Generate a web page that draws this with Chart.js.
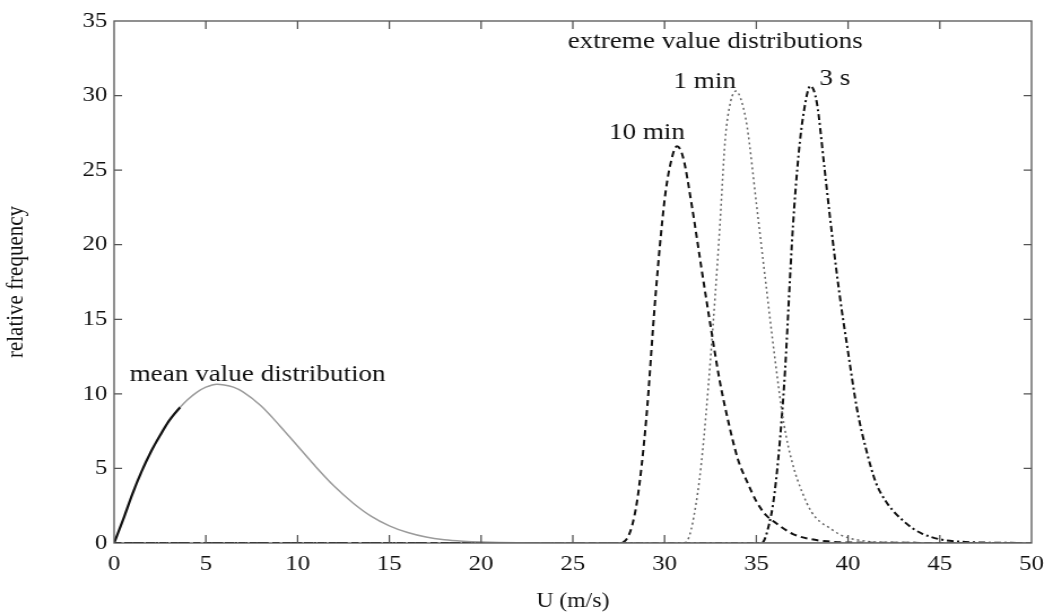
<!DOCTYPE html>
<html lang="en">
<head>
<meta charset="utf-8" />
<title>relative frequency</title>
<script src="https://cdn.jsdelivr.net/npm/chart.js@4.4.0/dist/chart.umd.min.js"></script>
<style>
  body { margin: 0; background: #fff; }
</style>
</head>
<body>
<!-- the original figure is stretched sideways, so the canvas is too -->
<canvas id="c" width="932" height="614" style="display:block;width:1053px;height:614px"></canvas>
<script>
	// mean value distribution (dark part goes up to 3.6)
	var meanU = [0, 0.5, 1, 1.5, 2, 2.5, 3, 3.6, 4, 4.5, 5, 5.6, 6, 6.5, 7, 8, 9, 10, 11, 12, 13, 14, 15, 16, 17, 18, 19, 20, 22, 25, 50];
	var meanV = [0, 1.6, 3.3, 4.8, 6.1, 7.2, 8.2, 9.1, 9.6, 10.1, 10.45, 10.65, 10.6, 10.45, 10.15, 9.2, 7.9, 6.5, 5.1, 3.8, 2.7, 1.8, 1.15, 0.7, 0.4, 0.22, 0.12, 0.06, 0.01, 0, 0];
	var darkEnd = 3.6;

	// extreme value distributions
	var min10U = [0, 27.5, 28, 28.5, 29, 29.5, 30, 30.3, 30.67, 31, 31.5, 32, 32.5, 33, 33.5, 34, 34.5, 35, 35.5, 36, 37, 38, 39, 40, 50];
	var min10V = [0, 0, 0.4, 2.8, 8.3, 16.5, 23.0, 25.3, 26.6, 25.9, 22.5, 18.5, 14.6, 10.9, 8.0, 5.6, 4.1, 2.8, 1.9, 1.4, 0.6, 0.25, 0.1, 0.03, 0];

	var min1U = [0, 31, 31.3, 31.6, 32, 32.5, 33, 33.3, 33.6, 33.9, 34.2, 34.5, 35, 35.5, 36, 36.5, 37, 37.5, 38, 38.5, 39, 39.5, 40, 41, 42, 50];
	var min1V = [0, 0, 0.3, 1.8, 5.3, 12.3, 21.0, 27.0, 29.6, 30.3, 29.6, 27.9, 22.8, 17.6, 12.5, 8.0, 5.2, 3.4, 2.1, 1.4, 1.0, 0.6, 0.35, 0.12, 0.05, 0];

	var s3U = [0, 35.3, 35.6, 36, 36.5, 37, 37.3, 37.6, 37.95, 38.3, 38.7, 39, 39.5, 40, 40.5, 41, 41.5, 42, 42.5, 43, 43.5, 44, 45, 46, 47, 50];
	var s3V = [0, 0, 0.8, 3.4, 10.3, 21.3, 26.0, 29.0, 30.65, 29.5, 25.3, 22.0, 17.0, 12.8, 8.9, 6.2, 4.1, 2.9, 2.1, 1.5, 1.0, 0.65, 0.25, 0.1, 0.04, 0];

	var xTicks = [0, 5, 10, 15, 20, 25, 30, 35, 40, 45, 50];
	var yTicks = [0, 5, 10, 15, 20, 25, 30, 35];

	var notes = [
		{ text: "mean value distribution", u: 7.82, v: 10.88 },
		{ text: "extreme value distributions", u: 32.76, v: 33.19 },
		{ text: "10 min", u: 29.04, v: 27.1 },
		{ text: "1 min", u: 32.19, v: 30.5 },
		{ text: "3 s", u: 39.28, v: 30.7 }
	];

	var pts = (us, vs) => us.map((u, i) => ({ x: u, y: vs[i] }));

	var frame = {
		id: "frame",
		afterDraw(chart) {
			var ctx = chart.ctx, a = chart.chartArea;
			var xs = chart.scales.x, ys = chart.scales.y;
			ctx.save();
			ctx.strokeStyle = "#555";
			ctx.lineWidth = 1.3;
			ctx.strokeRect(a.left, a.top, a.right - a.left, a.bottom - a.top);
			ctx.beginPath();
			xTicks.slice(1, -1).forEach(t => {
				var px = xs.getPixelForValue(t);
				ctx.moveTo(px, a.bottom); ctx.lineTo(px, a.bottom - 8);
				ctx.moveTo(px, a.top); ctx.lineTo(px, a.top + 8);
			});
			yTicks.slice(1, -1).forEach(t => {
				var py = ys.getPixelForValue(t);
				ctx.moveTo(a.left, py); ctx.lineTo(a.left + 7, py);
				ctx.moveTo(a.right, py); ctx.lineTo(a.right - 7, py);
			});
			ctx.stroke();

			ctx.fillStyle = "#111";
			ctx.font = '24px "Liberation Serif"';
			ctx.textAlign = "center";
			ctx.textBaseline = "alphabetic";
			notes.forEach(n => {
				ctx.fillText(n.text, xs.getPixelForValue(n.u), ys.getPixelForValue(n.v));
			});
			ctx.restore();
		}
	};

	new Chart(document.getElementById("c"), {
		type: "line",
		data: {
			datasets: [
				{
					data: pts(meanU, meanV), borderColor: "#9a9a9a", borderWidth: 1.5,
					segment: {
						borderColor: s => s.p1.parsed.x <= darkEnd ? "#111" : undefined,
						borderWidth: s => s.p1.parsed.x <= darkEnd ? 2.2 : undefined
					}
				},
				{ data: pts(min10U, min10V), borderColor: "#111", borderWidth: 2, borderDash: [6, 4] },
				{ data: pts(min1U, min1V), borderColor: "#666", borderWidth: 1.5, borderDash: [2, 3] },
				{ data: pts(s3U, s3V), borderColor: "#111", borderWidth: 2, borderDash: [6, 3, 2, 3] }
			]
		},
		options: {
			responsive: false,
			animation: false,
			devicePixelRatio: 1,
			cubicInterpolationMode: "monotone",
			elements: { point: { radius: 0 } },
			layout: { padding: { left: 0, right: 16, top: 21, bottom: 0 } },
			plugins: { legend: { display: false }, tooltip: { enabled: false } },
			scales: {
				x: {
					type: "linear",
					min: 0, max: 50,
					afterBuildTicks: s => { s.ticks = xTicks.map(v => ({ value: v })); },
					afterFit: s => { s.height = 71; },
					grid: { display: false, drawTicks: false },
					border: { display: false },
					ticks: { color: "#111", padding: 8, maxRotation: 0, font: { family: "Liberation Serif", size: 22 } },
					title: { display: true, text: "U (m/s)", color: "#111", padding: { top: 0, bottom: 0 }, font: { family: "Liberation Serif", size: 21 } }
				},
				y: {
					min: 0, max: 35,
					afterBuildTicks: s => { s.ticks = yTicks.map(v => ({ value: v })); },
					afterFit: s => { s.width = 101; },
					grid: { display: false, drawTicks: false },
					border: { display: false },
					ticks: { color: "#111", padding: 6, font: { family: "Liberation Serif", size: 22 } },
					title: { display: true, text: "relative frequency", color: "#111", padding: { top: 2, bottom: 0 }, font: { family: "Liberation Serif", size: 21 } }
				}
			}
		},
		plugins: [frame]
	});
</script>
</body>
</html>
